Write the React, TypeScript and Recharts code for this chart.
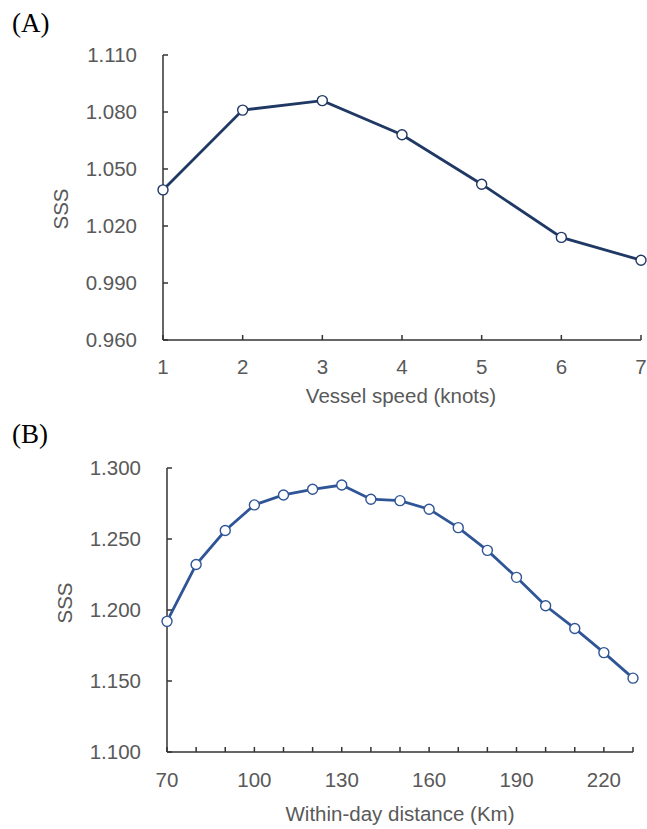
import React from 'react';
import { LineChart, Line, XAxis, YAxis, Label } from 'recharts';

// panel (A): SSS against vessel speed
const speedKnots = [1, 2, 3, 4, 5, 6, 7];
const sssBySpeed = [1.039, 1.081, 1.086, 1.068, 1.042, 1.014, 1.002];
const speedYTicks = [0.96, 0.99, 1.02, 1.05, 1.08, 1.11];

// panel (B): SSS against within-day distance
const distanceKm = [70, 80, 90, 100, 110, 120, 130, 140, 150, 160, 170, 180, 190, 200, 210, 220, 230];
const sssByDistance = [
  1.192, 1.232, 1.256, 1.274, 1.281, 1.285, 1.288, 1.278, 1.277, 1.271, 1.258, 1.242, 1.223, 1.203, 1.187,
  1.170, 1.152,
];
const distanceLabels = [70, 100, 130, 160, 190, 220];
const distanceYTicks = [1.1, 1.15, 1.2, 1.25, 1.3];

const FONT = '"Liberation Sans", Arial, sans-serif';
const TEXT = '#595959';
const AXIS = '#333333';
const FS = 20.5;

const speedData = speedKnots.map((x, i) => ({ x, y: sssBySpeed[i] }));
const distanceData = distanceKm.map((x, i) => ({ x, y: sssByDistance[i] }));

const tickStyle = { fill: TEXT, fontSize: FS, fontFamily: FONT };

// axis titles drawn at a fixed spot inside the chart's svg
const title = (text: string, x: number, y: number, angle = 0) => () => (
  <text
    x={x}
    y={y}
    transform={angle ? `rotate(${angle} ${x} ${y})` : undefined}
    textAnchor="middle"
    dominantBaseline="central"
    fill={TEXT}
    fontSize={FS}
    fontFamily={FONT}
  >
    {text}
  </text>
);

const panelTag: React.CSSProperties = {
  position: 'absolute',
  left: 12,
  fontFamily: '"Liberation Serif", "Times New Roman", serif',
  fontSize: 27,
  color: '#000',
  lineHeight: 1,
};

export default function App() {
  return (
    <div style={{ position: 'absolute', left: 0, top: 0, width: 647, height: 829, background: '#fff' }}>
      <div style={{ ...panelTag, top: 10 }}>(A)</div>
      <div style={{ position: 'absolute', left: 0, top: 0 }}>
        <LineChart width={647} height={420} data={speedData} margin={{ top: 55, right: 6, left: 0, bottom: 0 }}>
          <XAxis
            dataKey="x"
            type="number"
            domain={[1, 7]}
            ticks={speedKnots}
            interval={0}
            height={80}
            tickSize={-5}
            tickMargin={24}
            tick={tickStyle}
            stroke={AXIS}
            strokeWidth={1.5}
          >
            <Label content={title('Vessel speed (knots)', 401, 395)} />
          </XAxis>
          <YAxis
            type="number"
            domain={[0.96, 1.11]}
            ticks={speedYTicks}
            interval={0}
            width={163}
            tickSize={-5}
            tickMargin={31}
            tick={tickStyle}
            tickFormatter={(v: number) => v.toFixed(3)}
            stroke={AXIS}
            strokeWidth={1.5}
          >
            <Label content={title('SSS', 60, 209, -90)} />
          </YAxis>
          <Line
            dataKey="y"
            stroke="#203864"
            strokeWidth={2.8}
            dot={{ r: 5, fill: '#fff', stroke: '#203864', strokeWidth: 1.4 }}
            isAnimationActive={false}
          />
        </LineChart>
      </div>

      <div style={{ ...panelTag, top: 421 }}>(B)</div>
      <div style={{ position: 'absolute', left: 0, top: 420 }}>
        <LineChart width={647} height={409} data={distanceData} margin={{ top: 48, right: 14, left: 0, bottom: 0 }}>
          <XAxis
            dataKey="x"
            type="number"
            domain={[70, 230]}
            ticks={distanceKm}
            interval={0}
            height={77}
            tickSize={-5}
            tickMargin={25}
            tick={tickStyle}
            tickFormatter={(v: number) => (distanceLabels.includes(v) ? String(v) : '')}
            stroke={AXIS}
            strokeWidth={1.5}
          >
            <Label content={title('Within-day distance (Km)', 400, 393)} />
          </XAxis>
          <YAxis
            type="number"
            domain={[1.1, 1.3]}
            ticks={distanceYTicks}
            interval={0}
            width={167}
            tickSize={-5}
            tickMargin={31}
            tick={tickStyle}
            tickFormatter={(v: number) => v.toFixed(3)}
            stroke={AXIS}
            strokeWidth={1.5}
          >
            <Label content={title('SSS', 64, 183, -90)} />
          </YAxis>
          <Line
            dataKey="y"
            stroke="#2f5597"
            strokeWidth={2.8}
            dot={{ r: 5, fill: '#fff', stroke: '#2f5597', strokeWidth: 1.4 }}
            isAnimationActive={false}
          />
        </LineChart>
      </div>
    </div>
  );
}
